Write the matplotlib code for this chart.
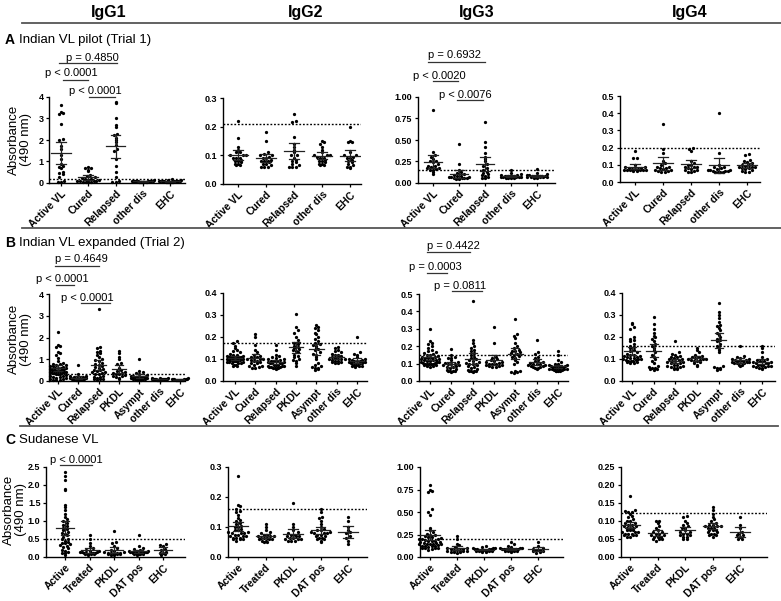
import numpy as np
import matplotlib
matplotlib.use('Agg')
import matplotlib.pyplot as plt
from matplotlib.lines import Line2D

plt.rcParams['font.family'] = ['Liberation Sans', 'DejaVu Sans']

W, H = 781, 601

headers = ['IgG1', 'IgG2', 'IgG3', 'IgG4']
row_titles = ['Indian VL pilot (Trial 1)', 'Indian VL expanded (Trial 2)', 'Sudanese VL']
row_letters = ['A', 'B', 'C']

catA = ['Active VL', 'Cured', 'Relapsed', 'other dis', 'EHC']
catB = ['Active VL', 'Cured', 'Relapsed', 'PKDL', 'Asympt', 'other dis', 'EHC']
catC = ['Active', 'Treated', 'PKDL', 'DAT pos', 'EHC']

# ---------------- Row A : Indian VL pilot ----------------
A_IgG1 = [
    [3.65, 3.3, 3.25, 3.2, 2.75, 2.05, 2.0, 1.7, 1.6, 1.3, 1.1, 0.9, 0.8, 0.75, 0.7, 0.5, 0.45, 0.4, 0.3, 0.1, 0.05, 0.05],
    [0.75, 0.72, 0.7, 0.62, 0.55, 0.38, 0.32, 0.28, 0.22, 0.2, 0.18, 0.15, 0.12, 0.1, 0.1, 0.08, 0.07, 0.06, 0.05, 0.05, 0.04],
    [3.75, 3.7, 3.0, 2.7, 2.6, 2.3, 2.25, 2.1, 2.0, 1.9, 1.75, 1.6, 1.5, 1.1, 0.8, 0.5, 0.3, 0.1, 0.05, 0.05],
    [0.12, 0.11, 0.1, 0.1, 0.09, 0.09, 0.08, 0.08, 0.08, 0.07, 0.07, 0.07, 0.06, 0.06, 0.06, 0.05, 0.05, 0.05, 0.04, 0.04],
    [0.2, 0.15, 0.12, 0.11, 0.1, 0.1, 0.09, 0.09, 0.08, 0.08, 0.08, 0.07, 0.07, 0.06, 0.06, 0.06, 0.05, 0.05, 0.04, 0.04],
]
A_IgG2 = [
    [0.22, 0.16, 0.13, 0.12, 0.11, 0.11, 0.10, 0.10, 0.10, 0.09, 0.09, 0.09, 0.085, 0.08, 0.08, 0.075, 0.07, 0.07, 0.065, 0.065],
    [0.18, 0.15, 0.11, 0.105, 0.10, 0.10, 0.095, 0.09, 0.09, 0.085, 0.08, 0.08, 0.08, 0.075, 0.07, 0.07, 0.065, 0.06, 0.06, 0.06],
    [0.245, 0.22, 0.215, 0.165, 0.14, 0.13, 0.12, 0.11, 0.10, 0.10, 0.09, 0.085, 0.08, 0.075, 0.07, 0.065, 0.06, 0.06, 0.06],
    [0.15, 0.145, 0.14, 0.13, 0.12, 0.11, 0.10, 0.10, 0.10, 0.095, 0.09, 0.09, 0.085, 0.08, 0.08, 0.075, 0.07, 0.07, 0.065, 0.065],
    [0.20, 0.15, 0.145, 0.145, 0.11, 0.10, 0.10, 0.095, 0.09, 0.09, 0.085, 0.08, 0.075, 0.07, 0.065, 0.06, 0.06, 0.055],
]
A_IgG3 = [
    [0.85, 0.36, 0.33, 0.30, 0.28, 0.26, 0.25, 0.24, 0.22, 0.20, 0.20, 0.19, 0.18, 0.17, 0.16, 0.15, 0.15, 0.13, 0.10],
    [0.45, 0.22, 0.15, 0.13, 0.12, 0.10, 0.09, 0.08, 0.08, 0.07, 0.07, 0.07, 0.06, 0.06, 0.06, 0.06, 0.05, 0.05],
    [0.71, 0.48, 0.42, 0.35, 0.30, 0.28, 0.25, 0.22, 0.20, 0.18, 0.15, 0.13, 0.12, 0.10, 0.09, 0.08, 0.07, 0.06, 0.06],
    [0.15, 0.12, 0.10, 0.09, 0.09, 0.08, 0.08, 0.08, 0.075, 0.07, 0.07, 0.07, 0.065, 0.065, 0.06, 0.06, 0.06, 0.06],
    [0.16, 0.12, 0.10, 0.09, 0.09, 0.085, 0.08, 0.08, 0.08, 0.075, 0.075, 0.07, 0.07, 0.07, 0.065, 0.065, 0.06, 0.06],
]
A_IgG4 = [
    [0.18, 0.14, 0.14, 0.10, 0.09, 0.085, 0.08, 0.08, 0.075, 0.075, 0.075, 0.07, 0.07, 0.07, 0.07, 0.07, 0.07, 0.065, 0.065],
    [0.335, 0.19, 0.17, 0.12, 0.11, 0.10, 0.09, 0.09, 0.08, 0.08, 0.075, 0.07, 0.07, 0.065, 0.065, 0.06, 0.06],
    [0.20, 0.19, 0.18, 0.12, 0.11, 0.10, 0.10, 0.09, 0.09, 0.085, 0.08, 0.075, 0.07, 0.07, 0.065, 0.06, 0.06],
    [0.40, 0.17, 0.10, 0.09, 0.085, 0.08, 0.075, 0.07, 0.07, 0.07, 0.065, 0.065, 0.065, 0.06, 0.06, 0.06, 0.06],
    [0.165, 0.155, 0.13, 0.12, 0.115, 0.11, 0.10, 0.10, 0.095, 0.09, 0.09, 0.085, 0.08, 0.08, 0.075, 0.07, 0.065, 0.06, 0.06],
]

# ---------------- Row B : Indian VL expanded ----------------
B_IgG1 = [
    [2.25, 1.65, 1.6, 1.55, 1.35, 1.3, 1.2, 1.05, 0.9, 0.85, 0.8, 0.78, 0.75, 0.72, 0.7, 0.68, 0.65, 0.62, 0.6, 0.6,
     0.58, 0.55, 0.55, 0.52, 0.5, 0.5, 0.48, 0.45, 0.45, 0.42, 0.4, 0.4, 0.38, 0.35, 0.35, 0.32, 0.3, 0.3, 0.28, 0.25,
     0.22, 0.2, 0.18, 0.15, 0.12, 0.1, 0.08, 0.05, 0.05, 0.03],
    [0.75, 0.3, 0.25, 0.22, 0.2, 0.18, 0.16, 0.15, 0.14, 0.13, 0.12, 0.12, 0.11, 0.1, 0.1, 0.09, 0.09, 0.08, 0.08, 0.07,
     0.07, 0.06, 0.06, 0.05, 0.05],
    [3.3, 1.55, 1.5, 1.4, 1.35, 1.3, 1.2, 1.1, 1.0, 0.95, 0.9, 0.85, 0.8, 0.75, 0.7, 0.65, 0.6, 0.55, 0.5, 0.5,
     0.45, 0.4, 0.4, 0.35, 0.3, 0.3, 0.25, 0.2, 0.2, 0.15, 0.1, 0.1, 0.08, 0.05],
    [1.4, 1.3, 1.1, 1.0, 0.85, 0.8, 0.6, 0.5, 0.45, 0.4, 0.38, 0.35, 0.32, 0.3, 0.28, 0.25, 0.22, 0.2, 0.15, 0.1],
    [1.0, 0.45, 0.4, 0.35, 0.3, 0.28, 0.25, 0.25, 0.22, 0.2, 0.2, 0.18, 0.18, 0.15, 0.15, 0.12, 0.12, 0.1, 0.1, 0.08,
     0.08, 0.06, 0.05, 0.05],
    [0.15, 0.13, 0.12, 0.11, 0.1, 0.1, 0.09, 0.09, 0.08, 0.08, 0.08, 0.07, 0.07, 0.07, 0.06, 0.06, 0.06, 0.05, 0.05, 0.05],
    [0.12, 0.1, 0.09, 0.08, 0.08, 0.07, 0.07, 0.06, 0.06, 0.05, 0.05, 0.05, 0.04, 0.04],
]
B_IgG2 = [
    [0.18, 0.175, 0.16, 0.15, 0.14, 0.135, 0.13, 0.125, 0.12, 0.12, 0.115, 0.115, 0.11, 0.11, 0.11, 0.105, 0.105, 0.1,
     0.1, 0.1, 0.1, 0.1, 0.095, 0.095, 0.095, 0.09, 0.09, 0.09, 0.09, 0.085, 0.085, 0.085, 0.08, 0.08, 0.08, 0.075,
     0.075, 0.07, 0.07, 0.105, 0.11, 0.1, 0.095, 0.09],
    [0.215, 0.2, 0.165, 0.14, 0.13, 0.12, 0.115, 0.11, 0.11, 0.105, 0.1, 0.1, 0.1, 0.095, 0.09, 0.09, 0.085, 0.08,
     0.08, 0.075, 0.07, 0.07, 0.065, 0.06, 0.06],
    [0.165, 0.14, 0.12, 0.115, 0.11, 0.105, 0.1, 0.1, 0.095, 0.09, 0.09, 0.09, 0.085, 0.085, 0.08, 0.08, 0.08, 0.08,
     0.075, 0.075, 0.075, 0.07, 0.07, 0.07, 0.065, 0.065, 0.065, 0.06, 0.06, 0.06, 0.06, 0.055],
    [0.305, 0.245, 0.23, 0.22, 0.2, 0.185, 0.175, 0.17, 0.16, 0.155, 0.15, 0.145, 0.14, 0.135, 0.13, 0.12, 0.115,
     0.11, 0.1, 0.095, 0.09, 0.08, 0.07],
    [0.255, 0.245, 0.24, 0.23, 0.22, 0.215, 0.2, 0.19, 0.18, 0.175, 0.17, 0.165, 0.16, 0.15, 0.145, 0.14, 0.13, 0.125,
     0.12, 0.11, 0.1, 0.08, 0.075, 0.07, 0.065, 0.06, 0.06, 0.055, 0.05],
    [0.155, 0.15, 0.14, 0.135, 0.13, 0.125, 0.12, 0.12, 0.115, 0.11, 0.11, 0.105, 0.1, 0.1, 0.1, 0.095, 0.09, 0.09,
     0.085, 0.085, 0.08, 0.08],
    [0.2, 0.13, 0.125, 0.12, 0.11, 0.1, 0.1, 0.095, 0.095, 0.09, 0.09, 0.09, 0.085, 0.085, 0.085, 0.08, 0.08, 0.08,
     0.08, 0.075, 0.075, 0.075, 0.07, 0.07, 0.07, 0.065],
]
B_IgG3 = [
    [0.3, 0.23, 0.22, 0.21, 0.2, 0.19, 0.18, 0.17, 0.165, 0.16, 0.155, 0.15, 0.15, 0.145, 0.14, 0.14, 0.135, 0.13,
     0.13, 0.125, 0.125, 0.12, 0.12, 0.12, 0.115, 0.115, 0.11, 0.11, 0.11, 0.105, 0.105, 0.1, 0.1, 0.1, 0.095, 0.095,
     0.09, 0.09, 0.085, 0.085, 0.08],
    [0.185, 0.15, 0.14, 0.135, 0.13, 0.12, 0.11, 0.105, 0.1, 0.1, 0.095, 0.09, 0.09, 0.085, 0.08, 0.08, 0.075, 0.07,
     0.065, 0.06, 0.06, 0.055, 0.055, 0.05],
    [0.46, 0.235, 0.22, 0.2, 0.19, 0.18, 0.17, 0.16, 0.15, 0.14, 0.13, 0.125, 0.12, 0.115, 0.11, 0.105, 0.1, 0.1,
     0.095, 0.09, 0.085, 0.08, 0.075, 0.07, 0.065, 0.06, 0.06, 0.055, 0.055, 0.05],
    [0.31, 0.22, 0.14, 0.13, 0.125, 0.12, 0.115, 0.11, 0.11, 0.105, 0.1, 0.1, 0.095, 0.09, 0.09, 0.085, 0.085, 0.08, 0.08],
    [0.355, 0.27, 0.26, 0.25, 0.22, 0.2, 0.19, 0.18, 0.175, 0.17, 0.165, 0.16, 0.155, 0.15, 0.145, 0.14, 0.13, 0.12,
     0.11, 0.1, 0.06, 0.055, 0.05, 0.05, 0.045],
    [0.235, 0.165, 0.155, 0.14, 0.13, 0.12, 0.115, 0.11, 0.105, 0.1, 0.1, 0.095, 0.09, 0.09, 0.085, 0.085, 0.08, 0.08,
     0.075, 0.075, 0.07],
    [0.17, 0.15, 0.12, 0.11, 0.1, 0.095, 0.09, 0.09, 0.085, 0.085, 0.08, 0.08, 0.08, 0.075, 0.075, 0.075, 0.07, 0.07,
     0.07, 0.07, 0.065, 0.065, 0.065, 0.06, 0.06, 0.055, 0.055],
]
B_IgG4 = [
    [0.265, 0.26, 0.245, 0.235, 0.2, 0.19, 0.185, 0.18, 0.17, 0.16, 0.155, 0.15, 0.14, 0.135, 0.13, 0.125, 0.12, 0.12,
     0.115, 0.115, 0.11, 0.11, 0.105, 0.105, 0.1, 0.1, 0.1, 0.095, 0.095, 0.09, 0.09, 0.09, 0.085, 0.085, 0.08, 0.08],
    [0.29, 0.26, 0.235, 0.22, 0.205, 0.2, 0.19, 0.18, 0.17, 0.16, 0.15, 0.14, 0.13, 0.12, 0.11, 0.1, 0.09, 0.08,
     0.07, 0.065, 0.06, 0.06, 0.055, 0.055, 0.05],
    [0.18, 0.13, 0.125, 0.12, 0.115, 0.11, 0.11, 0.105, 0.1, 0.1, 0.095, 0.09, 0.09, 0.085, 0.085, 0.08, 0.08, 0.075,
     0.075, 0.07, 0.07, 0.065, 0.065, 0.06, 0.06, 0.055, 0.055],
    [0.15, 0.14, 0.13, 0.12, 0.115, 0.11, 0.11, 0.105, 0.1, 0.1, 0.1, 0.095, 0.095, 0.09, 0.09, 0.085, 0.08, 0.075, 0.07],
    [0.355, 0.315, 0.3, 0.285, 0.27, 0.255, 0.25, 0.24, 0.23, 0.22, 0.21, 0.2, 0.19, 0.185, 0.18, 0.17, 0.16, 0.15,
     0.14, 0.13, 0.07, 0.065, 0.06, 0.06, 0.055, 0.05],
    [0.16, 0.115, 0.11, 0.105, 0.1, 0.1, 0.095, 0.095, 0.09, 0.09, 0.09, 0.085, 0.085, 0.085, 0.08, 0.08, 0.08, 0.075,
     0.075, 0.07],
    [0.16, 0.15, 0.13, 0.11, 0.1, 0.095, 0.09, 0.09, 0.085, 0.085, 0.08, 0.08, 0.08, 0.075, 0.075, 0.075, 0.07, 0.07,
     0.07, 0.065, 0.065, 0.06, 0.06, 0.055],
]

# ---------------- Row C : Sudanese VL ----------------
C_IgG1 = [
    [2.35, 2.25, 2.15, 1.9, 1.85, 1.45, 1.4, 1.3, 1.2, 1.1, 1.05, 1.0, 0.95, 0.9, 0.85, 0.8, 0.78, 0.75, 0.7, 0.68,
     0.65, 0.6, 0.55, 0.5, 0.5, 0.45, 0.42, 0.4, 0.38, 0.35, 0.32, 0.3, 0.28, 0.25, 0.2, 0.18, 0.15, 0.12, 0.1, 0.05],
    [0.6, 0.5, 0.4, 0.3, 0.25, 0.2, 0.18, 0.16, 0.15, 0.14, 0.13, 0.12, 0.12, 0.11, 0.1, 0.1, 0.09, 0.08, 0.08, 0.07, 0.06],
    [0.72, 0.42, 0.38, 0.3, 0.25, 0.2, 0.18, 0.15, 0.14, 0.12, 0.11, 0.1, 0.1, 0.09, 0.08, 0.08, 0.07, 0.06, 0.05],
    [0.62, 0.3, 0.25, 0.22, 0.2, 0.18, 0.17, 0.16, 0.15, 0.15, 0.14, 0.13, 0.13, 0.12, 0.12, 0.11, 0.11, 0.1, 0.1,
     0.09, 0.09, 0.08, 0.08, 0.07, 0.06],
    [0.35, 0.33, 0.3, 0.22, 0.2, 0.15, 0.12, 0.1, 0.08, 0.05],
]
C_IgG2 = [
    [0.27, 0.175, 0.17, 0.16, 0.155, 0.15, 0.14, 0.13, 0.125, 0.12, 0.115, 0.11, 0.105, 0.1, 0.1, 0.095, 0.09, 0.09,
     0.085, 0.085, 0.08, 0.08, 0.075, 0.075, 0.07, 0.07, 0.065, 0.065, 0.06, 0.06, 0.06, 0.055, 0.065, 0.07, 0.08],
    [0.11, 0.1, 0.09, 0.085, 0.08, 0.075, 0.075, 0.07, 0.07, 0.07, 0.065, 0.065, 0.065, 0.06, 0.06, 0.06, 0.055,
     0.055, 0.05, 0.05],
    [0.18, 0.11, 0.1, 0.09, 0.085, 0.08, 0.075, 0.075, 0.07, 0.07, 0.07, 0.065, 0.065, 0.06, 0.06, 0.06, 0.055,
     0.055, 0.055],
    [0.16, 0.15, 0.135, 0.13, 0.12, 0.11, 0.1, 0.095, 0.09, 0.09, 0.085, 0.085, 0.08, 0.08, 0.08, 0.075, 0.075, 0.07,
     0.07, 0.065, 0.065, 0.06, 0.06, 0.055, 0.05],
    [0.135, 0.12, 0.1, 0.09, 0.085, 0.08, 0.07, 0.065, 0.055, 0.045],
]
C_IgG3 = [
    [0.8, 0.75, 0.73, 0.72, 0.53, 0.5, 0.47, 0.32, 0.3, 0.28, 0.26, 0.25, 0.24, 0.23, 0.22, 0.22, 0.21, 0.2, 0.2,
     0.19, 0.18, 0.18, 0.17, 0.16, 0.15, 0.15, 0.14, 0.13, 0.12, 0.12, 0.11, 0.1, 0.1, 0.09, 0.1, 0.12, 0.14, 0.16,
     0.18, 0.2, 0.08, 0.1, 0.12, 0.15, 0.17],
    [0.23, 0.2, 0.15, 0.13, 0.11, 0.1, 0.1, 0.09, 0.09, 0.08, 0.08, 0.08, 0.07, 0.07, 0.07, 0.06, 0.06, 0.06, 0.05],
    [0.12, 0.11, 0.1, 0.1, 0.095, 0.09, 0.09, 0.085, 0.085, 0.08, 0.08, 0.08, 0.075, 0.075, 0.07, 0.07, 0.065,
     0.065, 0.06, 0.06],
    [0.17, 0.14, 0.12, 0.11, 0.1, 0.1, 0.095, 0.09, 0.09, 0.09, 0.085, 0.085, 0.08, 0.08, 0.08, 0.075, 0.075, 0.07,
     0.07, 0.065, 0.065, 0.06],
    [0.17, 0.12, 0.1, 0.085, 0.08, 0.075, 0.07, 0.065, 0.06, 0.05],
]
C_IgG4 = [
    [0.17, 0.13, 0.128, 0.125, 0.125, 0.12, 0.115, 0.11, 0.105, 0.1, 0.1, 0.095, 0.095, 0.09, 0.09, 0.085, 0.085,
     0.08, 0.08, 0.08, 0.075, 0.075, 0.075, 0.07, 0.07, 0.07, 0.065, 0.065, 0.065, 0.06, 0.06, 0.06, 0.055, 0.055],
    [0.1, 0.1, 0.095, 0.085, 0.08, 0.075, 0.07, 0.07, 0.065, 0.065, 0.06, 0.06, 0.055, 0.055, 0.055, 0.05, 0.05,
     0.05, 0.045],
    [0.115, 0.11, 0.1, 0.095, 0.09, 0.085, 0.08, 0.08, 0.075, 0.07, 0.07, 0.065, 0.065, 0.06, 0.06, 0.055, 0.055,
     0.05, 0.05],
    [0.14, 0.13, 0.12, 0.11, 0.105, 0.1, 0.095, 0.09, 0.09, 0.085, 0.085, 0.085, 0.08, 0.08, 0.08, 0.075, 0.075,
     0.075, 0.07, 0.07, 0.065, 0.065, 0.06, 0.06, 0.055],
    [0.11, 0.09, 0.08, 0.07, 0.065, 0.06, 0.06, 0.055, 0.05, 0.05],
]

# cut-off (dotted) lines
thrA = [0.20, 0.209, 0.152, 0.196]
thrB = [0.33, 0.174, 0.152, 0.161]
thrC = [0.50, 0.161, 0.196, 0.122]

# y-axis ranges / ticks
ymaxA = [4, 0.3, 1.0, 0.5]
ymaxB = [4, 0.4, 0.5, 0.4]
ymaxC = [2.5, 0.3, 1.0, 0.25]
ystepA = [1, 0.1, 0.25, 0.1]
ystepB = [1, 0.1, 0.1, 0.1]
ystepC = [0.5, 0.1, 0.25, 0.05]
yfmtA = ['%d', '%.1f', '%.2f', '%.1f']
yfmtB = ['%d', '%.1f', '%.1f', '%.1f']
yfmtC = ['%.1f', '%.1f', '%.2f', '%.2f']

# p-value annotations: (text, x text centre, y text (axes frac), x1, x2, y line (axes frac))
pvals = {
    (0, 0): [('p = 0.4850', 1.14, 1.453, -0.07, 2.06, 1.395),
             ('p < 0.0001', 0.37, 1.279, 0.07, 0.99, 1.198),
             ('p < 0.0001', 1.27, 1.070, 1.03, 1.99, 1.000)],
    (0, 2): [('p = 0.6932', 0.81, 1.488, -0.19, 2.00, 1.407),
             ('p < 0.0020', 0.23, 1.244, 0.00, 0.96, 1.186),
             ('p < 0.0076', 1.25, 1.023, 0.92, 1.92, 0.965)],
    (1, 0): [('p = 0.4649', 1.13, 1.402, -0.15, 2.02, 1.322),
             ('p < 0.0001', 0.22, 1.172, -0.10, 0.79, 1.103),
             ('p < 0.0001', 1.45, 0.954, 1.13, 2.56, 0.897)],
    (1, 2): [('p = 0.4422', 1.10, 1.552, -0.14, 1.88, 1.483),
             ('p = 0.0003', 0.23, 1.310, -0.14, 0.80, 1.241),
             ('p = 0.0811', 1.43, 1.092, 1.03, 2.44, 1.034)],
    (2, 0): [('p < 0.0001', 0.45, 1.078, -0.20, 1.10, 1.022)],
}

# ---------------- layout (pixels) ----------------
rects = [
    [(49, 97, 185, 183), (223, 98, 361, 184), (418, 97, 555, 183), (620, 96, 760, 182)],
    [(49, 294, 185, 381), (223, 293, 367, 381), (419, 294, 568, 381), (622, 293, 775, 381)],
    [(46, 467, 185, 557), (228, 467, 367, 557), (420, 467, 563, 557), (621, 467, 767, 557)],
]
gpx = [
    [(61, 170), (238, 350), (433, 537), (635, 747)],
    [(58, 180), (235, 357), (430, 558), (632, 762)],
    [(65, 163), (238, 348), (430, 538), (630, 740)],
]
ylabel_pos = [(20, 140), (20, 339), (15, 510)]

rows = [
    (catA, [A_IgG1, A_IgG2, A_IgG3, A_IgG4], thrA, ymaxA, ystepA, yfmtA),
    (catB, [B_IgG1, B_IgG2, B_IgG3, B_IgG4], thrB, ymaxB, ystepB, yfmtB),
    (catC, [C_IgG1, C_IgG2, C_IgG3, C_IgG4], thrC, ymaxC, ystepC, yfmtC),
]


def swarm_offsets(vals, px_per_y, spacing_px, d=3.2):
    vals = np.asarray(vals, float)
    ypx = vals * px_per_y
    bins = np.floor(ypx / d).astype(int)
    offs = np.zeros(len(vals))
    maxw = 0.40 * spacing_px
    for b in np.unique(bins):
        idx = np.where(bins == b)[0]
        idx = idx[np.argsort(vals[idx])]
        n = len(idx)
        if n == 1:
            continue
        w = min((n - 1) * d / 2.0, maxw)
        pos = np.linspace(-w, w, n)
        order = np.argsort(np.abs(pos), kind='stable')
        offs[idx] = pos[order]
    return offs


def t_crit(n):
    return 1.96 + 2.4 / max(n - 1, 1)


fig = plt.figure(figsize=(W / 100, H / 100), dpi=100)

for r, (cats, panels, thr, ymaxs, ysteps, yfmts) in enumerate(rows):
    ng = len(cats)
    for c in range(4):
        L, T, R, B = rects[r][c]
        ax = fig.add_axes([L / W, 1 - B / H, (R - L) / W, (B - T) / H])
        g0, g1 = gpx[r][c]
        upp = (ng - 1) / (g1 - g0)
        xmin = -(g0 - L) * upp
        xmax = (ng - 1) + (R - g1) * upp
        ax.set_xlim(xmin, xmax)
        ymax = ymaxs[c]
        ax.set_ylim(0, ymax)
        px_per_y = (B - T) / ymax
        spacing_px = (g1 - g0) / (ng - 1)

        for i, vals in enumerate(panels[c]):
            v = np.asarray(vals, float)
            offs = swarm_offsets(v, px_per_y, spacing_px) * upp
            ax.scatter(i + offs, v, s=5.5, color='black', linewidths=0, zorder=2, clip_on=False)
            m = v.mean()
            ci = t_crit(len(v)) * v.std(ddof=1) / np.sqrt(len(v))
            ax.plot([i - 0.36, i + 0.36], [m, m], color='#222222', lw=0.9, zorder=3)
            ax.plot([i, i], [m - ci, m + ci], color='#222222', lw=0.9, zorder=3)
            for yy in (m - ci, m + ci):
                ax.plot([i - 0.18, i + 0.18], [yy, yy], color='#222222', lw=0.9, zorder=3)

        ax.axhline(thr[c], color='black', lw=1.0, ls=(0, (1.3, 1.3)), zorder=1)

        for s in ('top', 'right'):
            ax.spines[s].set_visible(False)
        for s in ('left', 'bottom'):
            ax.spines[s].set_linewidth(1.0)
        ax.spines['bottom'].set_zorder(4)

        yt = np.arange(0, ymax + 1e-9, ysteps[c])
        ax.set_yticks(yt)
        ax.set_yticklabels([yfmts[c] % t for t in yt], fontsize=6.5, fontweight='bold')
        ax.set_xticks(range(ng))
        ax.set_xticklabels(cats, rotation=45, ha='right', rotation_mode='anchor',
                           fontsize=7.5, fontweight='bold')
        ax.tick_params(axis='both', direction='out', length=2.5, width=0.9, pad=1.5)

        for (txt, xc, ytx, x1, x2, yl) in pvals.get((r, c), []):
            tr = ax.get_xaxis_transform()
            ax.text(xc, ytx, txt, transform=tr, ha='center', va='center', fontsize=8, clip_on=False)
            ax.add_line(Line2D([x1, x2], [yl, yl], transform=tr, color='#333333', lw=0.9, clip_on=False))

# headers
for x, h in zip([109, 306, 477, 690], headers):
    fig.text(x / W, 1 - 12 / H, h, ha='center', va='center', fontsize=11.5, fontweight='bold')

# separator lines
for y, x1, x2 in [(23, 22, 781), (228, 22, 781), (426, 20, 778)]:
    fig.add_artist(Line2D([x1 / W, x2 / W], [1 - y / H, 1 - y / H], color='#555555', lw=1.3))

# row titles
for (y, letter, title) in zip([40, 243, 440], row_letters, row_titles):
    fig.text(5 / W, 1 - y / H, letter, ha='left', va='center', fontsize=10, fontweight='bold')
    fig.text(19 / W, 1 - y / H, title, ha='left', va='center', fontsize=9.5)

# y-axis labels
for (xc, yc) in ylabel_pos:
    fig.text(xc / W, 1 - yc / H, 'Absorbance\n(490 nm)', ha='center', va='center',
             rotation=90, fontsize=9.5, linespacing=1.05)

fig.savefig('out.png', dpi=100)
